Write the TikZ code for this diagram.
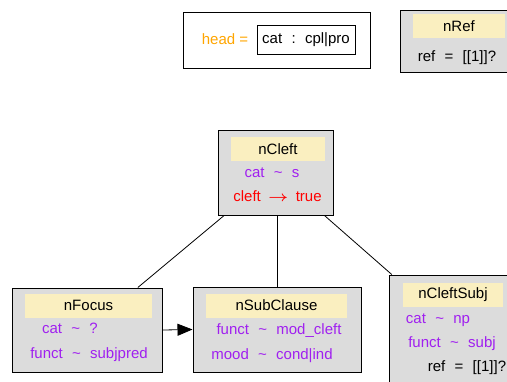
\documentclass[tikz,border=0pt]{standalone}
\usepackage{fontspec}
\setmainfont{Liberation Sans}
\usetikzlibrary{arrows.meta}

\definecolor{boxgrey}{HTML}{DCDCDC}
\definecolor{titleyellow}{HTML}{FAEFC0}
\definecolor{featpurple}{HTML}{A020F0}
\definecolor{headorange}{HTML}{FFA500}

\newcommand{\gap}{\hspace{0.62em}}
\newcommand{\sm}{\gap\textasciitilde\gap}
\newcommand{\rw}{\scalebox{1.2}[1]{\boldmath$\rightarrow$}}

\tikzset{
  fsbox/.style={draw, fill=boxgrey, line width=1pt, inner sep=0pt},
  fstitle/.style={fill=titleyellow, inner sep=0pt, minimum height=24pt},
  feat/.style={inner sep=0pt, text height=11pt, text depth=3pt},
  featp/.style={feat, text=featpurple},
}

\begin{document}
\begin{tikzpicture}[x=1pt, y=-1pt, font=\fontsize{15}{17}\selectfont]
\useasboundingbox (0,0) rectangle (507,381);
\clip (0,0) rectangle (507,381);

% --- head ---
\node[draw, line width=1pt, minimum width=187pt, minimum height=56pt] (head) at (276.5,40) {};
\node[feat, text=headorange] (headlbl) at (225,40) {head =};
\node[draw, line width=1pt, inner sep=0pt, minimum width=98pt, minimum height=29pt] (headval) at (306,39.5) {cat\gap:\gap cpl|pro};

% --- nRef ---
\node[fsbox, minimum width=118pt, minimum height=62pt] (nRef) at (459,41) {};
\node[fstitle, minimum width=92pt] (nRefT) at (459,26) {nRef};
\node[feat] (nRefA) at (457,57) {ref\gap=\gap[[1]]?};

% --- nCleft ---
\node[fsbox, minimum width=115pt, minimum height=85pt] (nCleft) at (275.5,172.5) {};
\node[fstitle, minimum width=94pt] (nCleftT) at (278,149) {nCleft};
\node[featp] (nCleftA) at (272,173) {cat\sm s};
\node[feat, text=red] (nCleftB) at (277.5,197) {cleft\hspace{0.5em}\rw\hspace{0.5em}true};

% --- nFocus ---
\node[fsbox, minimum width=150pt, minimum height=84pt] (nFocus) at (87,330) {};
\node[fstitle, minimum width=127pt] (nFocusT) at (88.5,305.5) {nFocus};
\node[featp] (nFocusA) at (70,329) {cat\sm ?};
\node[featp] (nFocusB) at (89,354) {funct\sm subjpred};

% --- nSubClause ---
\node[fsbox, minimum width=168pt, minimum height=85pt] (nSubClause) at (277,329.5) {};
\node[fstitle, minimum width=141pt] (nSubClauseT) at (276.5,305.5) {nSubClause};
\node[featp] (nSubClauseA) at (279,330) {funct\sm mod\_cleft};
\node[featp] (nSubClauseB) at (272,355) {mood\sm cond|ind};

% --- nCleftSubj ---
\node[fsbox, minimum width=132pt, minimum height=110pt] (nCleftSubj) at (455,330) {};
\node[fstitle, minimum width=100pt] (nCleftSubjT) at (453,295) {nCleftSubj};
\node[featp] (nCleftSubjA) at (438,319) {cat\sm np};
\node[featp] (nCleftSubjB) at (452,343) {funct\sm subj};
\node[feat] (nCleftSubjC) at (467,367) {ref\gap=\gap[[1]]?};

% edges
\draw[line width=0.8pt] (nCleft) -- (nFocus);
\draw[line width=0.8pt] (nCleft.south -| nSubClause.north) -- (nSubClause.north);
\draw[line width=0.8pt] (nCleft) -- (nCleftSubj);
\draw[line width=0.8pt, -{Triangle[length=15pt, width=12pt]}] (nFocus.east) -- (nSubClause.west);
\end{tikzpicture}
\end{document}
